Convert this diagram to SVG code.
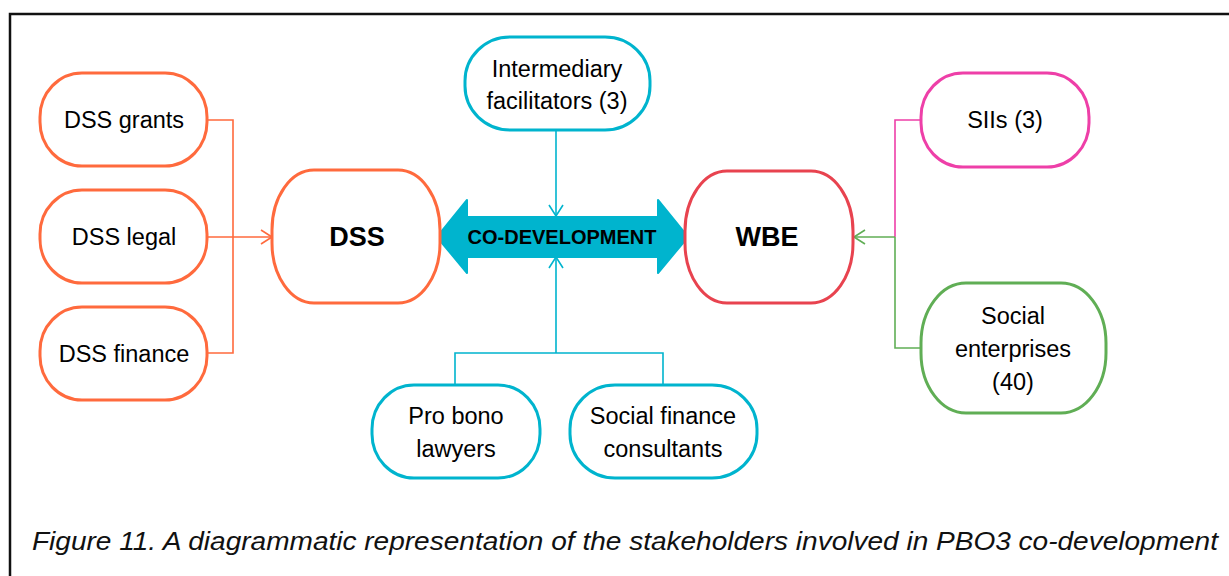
<svg xmlns="http://www.w3.org/2000/svg" width="1229" height="576" viewBox="0 0 1229 576">
<defs>
<style>
.n{fill:#fff;stroke-width:3}
.o{stroke:#FF6A3D}
.c{stroke:#00B4CE}
.r{stroke:#E8434F}
.p{stroke:#EE3FA8}
.g{stroke:#60AE55}
.t{font-family:"Liberation Sans",Arial,sans-serif;font-size:23.5px;fill:#000;text-anchor:middle}
.b{font-weight:bold}
.l{fill:none;stroke-width:1.6}
</style>
<marker id="ao" viewBox="0 0 12 16" refX="12" refY="8" markerWidth="12" markerHeight="16" markerUnits="userSpaceOnUse" orient="auto"><path d="M1,1 L12,8 L1,15" fill="none" stroke="#FF6A3D" stroke-width="1.6"/></marker>
<marker id="ac" viewBox="0 0 12 16" refX="12" refY="8" markerWidth="12" markerHeight="16" markerUnits="userSpaceOnUse" orient="auto"><path d="M1,1 L12,8 L1,15" fill="none" stroke="#00B4CE" stroke-width="1.6"/></marker>
<marker id="ag" viewBox="0 0 12 16" refX="12" refY="8" markerWidth="12" markerHeight="16" markerUnits="userSpaceOnUse" orient="auto"><path d="M1,1 L12,8 L1,15" fill="none" stroke="#60AE55" stroke-width="1.6"/></marker>
</defs>
<rect x="0" y="0" width="1229" height="576" fill="#fff"/>
<path d="M10,576 V14 H1229" fill="none" stroke="#111" stroke-width="2.5"/>

<g id="connectors">
<path class="l o" d="M207,120 H233 V353 H207"/>
<path class="l o" d="M207,237 H272" marker-end="url(#ao)"/>
<path class="l c" d="M556,130 V216" marker-end="url(#ac)"/>
<path class="l c" d="M455,385 V353 H663 V385 M556,353 V257" marker-end="url(#ac)"/>
<path class="l p" d="M921,120 H895 V237"/>
<path class="l g" d="M921,348 H895 V237"/>
<path class="l g" d="M895,237 H854" marker-end="url(#ag)"/>
</g>

<g id="codevelopment">
<polygon points="437,237 467,200 467,217 658,217 658,200 688,237 658,273 658,257 467,257 467,273" fill="#00B4CE" stroke="#00B4CE" stroke-width="2" stroke-linejoin="round"/>
<text class="t b" x="562" y="244" style="font-size:20px">CO-DEVELOPMENT</text>
</g>

<g id="dss-grants"><rect class="n o" x="40" y="73" width="167" height="93" rx="42" ry="44"/><text class="t" x="124" y="128">DSS grants</text></g>
<g id="dss-legal"><rect class="n o" x="40" y="190" width="167" height="93" rx="42" ry="44"/><text class="t" x="124" y="245">DSS legal</text></g>
<g id="dss-finance"><rect class="n o" x="40" y="307" width="167" height="93" rx="42" ry="44"/><text class="t" x="124" y="362">DSS finance</text></g>
<g id="dss"><rect class="n o" x="272" y="170" width="168" height="133" rx="42" ry="60"/><text class="t b" x="357" y="246" style="font-size:27px">DSS</text></g>
<g id="wbe"><rect class="n r" x="685" y="171" width="168" height="132" rx="42" ry="60"/><text class="t b" x="767" y="246" style="font-size:27px">WBE</text></g>
<g id="intermediary"><rect class="n c" x="465" y="37" width="185" height="93" rx="45" ry="44"/><text class="t" x="557" y="77">Intermediary</text><text class="t" x="557" y="109">facilitators (3)</text></g>
<g id="pro-bono"><rect class="n c" x="372" y="385" width="168" height="93" rx="42" ry="44"/><text class="t" x="456" y="424">Pro bono</text><text class="t" x="456" y="457">lawyers</text></g>
<g id="social-finance"><rect class="n c" x="570" y="385" width="187" height="93" rx="45" ry="44"/><text class="t" x="663" y="424">Social finance</text><text class="t" x="663" y="457">consultants</text></g>
<g id="siis"><rect class="n p" x="921" y="73" width="168" height="94" rx="42" ry="44"/><text class="t" x="1005" y="128">SIIs (3)</text></g>
<g id="social-enterprises"><rect class="n g" x="921" y="283" width="185" height="130" rx="45" ry="60"/><text class="t" x="1013" y="324">Social</text><text class="t" x="1013" y="357">enterprises</text><text class="t" x="1013" y="390">(40)</text></g>

<text x="32" y="550" font-family="Liberation Sans, Arial, sans-serif" font-style="italic" font-size="26" fill="#111" textLength="1186" lengthAdjust="spacingAndGlyphs">Figure 11. A diagrammatic representation of the stakeholders involved in PBO3 co-development</text>
</svg>
